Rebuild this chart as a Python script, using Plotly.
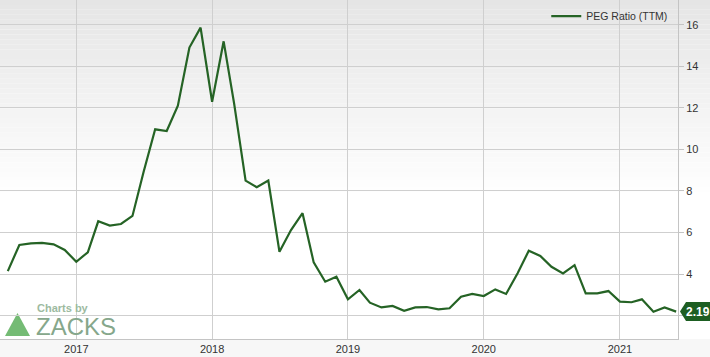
import plotly.graph_objects as go
import pandas as pd

# ---- data ----
dates = pd.date_range("2016-07-01", "2021-06-01", freq="MS")
peg_ttm = [
    4.14, 5.40, 5.48, 5.50, 5.43, 5.16,
    4.59, 5.05, 6.54, 6.33, 6.41, 6.80, 8.93, 10.97, 10.89, 12.11, 14.91, 15.87,
    12.30, 15.21, 12.23, 8.50, 8.18, 8.50, 5.07, 6.12, 6.93, 4.56, 3.63, 3.87,
    2.78, 3.23, 2.62, 2.39, 2.46, 2.23, 2.39, 2.41, 2.30, 2.35, 2.91, 3.04,
    2.94, 3.26, 3.04, 4.04, 5.12, 4.87, 4.35, 4.03, 4.43, 3.07, 3.07, 3.18,
    2.67, 2.64, 2.78, 2.18, 2.39, 2.19,
]
y_ticks = [2, 4, 6, 8, 10, 12, 14, 16]
y_tick_labels = ["", "4", "6", "8", "10", "12", "14", "16"]  # "2" is hidden behind the value badge
x_ticks = ["2017-01-01", "2018-01-01", "2019-01-01", "2020-01-01", "2021-01-01"]
x_tick_labels = ["2017", "2018", "2019", "2020", "2021"]
last_label = "2.19"

W, H = 710, 357
L, R, T, B = 0, 32, 0, 18
LINE = "#256325"

fig = go.Figure()
fig.add_trace(go.Scatter(
    x=dates, y=peg_ttm, mode="lines", name="PEG Ratio (TTM)",
    line=dict(color=LINE, width=2.2),
))

shapes = []
# background gradient (page wide)
n = 40
top_c, bot_c = 229, 255
grad_end = 0.42
xr = W / (W - L - R)
for i in range(n):
    y1 = 1 - (1 - grad_end) * i / n
    y0 = 1 - (1 - grad_end) * (i + 1) / n
    c = int(round(top_c + (bot_c - top_c) * (i + 0.5) / n))
    shapes.append(dict(type="rect", xref="paper", yref="paper", x0=0, x1=xr,
                       y0=y0, y1=y1, fillcolor=f"rgb({c},{c},{c})",
                       line=dict(width=0), layer="below"))
# bottom strip
shapes.append(dict(type="rect", xref="paper", yref="paper", x0=0, x1=xr,
                   y0=-B / (H - T - B), y1=0, fillcolor="#f7f7f7",
                   line=dict(width=0), layer="below"))
# zacks triangle
shapes.append(dict(type="path", xref="paper", yref="paper",
                   xsizemode="pixel", ysizemode="pixel", xanchor=0, yanchor=0,
                   path="M 5 3 L 17.5 26 L 30 3 Z",
                   fillcolor="#74bb74", line=dict(width=0), layer="below"))
# last value label box
shapes.append(dict(type="path", xref="paper", yref="y",
                   xsizemode="pixel", ysizemode="pixel", xanchor=1, yanchor=peg_ttm[-1],
                   path="M 2 0 L 8 -9.5 L 34 -9.5 L 34 9.5 L 8 9.5 Z",
                   fillcolor="#1d5e22", line=dict(width=0), layer="above"))

annotations = [
    dict(text="<b>" + last_label + "</b>", xref="paper", yref="y", x=1, y=peg_ttm[-1],
         xanchor="left", yanchor="middle", xshift=7, showarrow=False, borderpad=0,
         font=dict(family="Liberation Sans, Arial", size=12, color="white")),
    dict(text="<b>Charts by</b>", xref="paper", yref="paper", x=35 / 678, y=(339 - 308) / 339,
         xanchor="left", yanchor="middle", showarrow=False,
         font=dict(family="Liberation Sans, Arial", size=11, color="#9dba9f")),
    dict(text="ZACKS", xref="paper", yref="paper", x=34 / 678, y=(339 - 326.5) / 339,
         xanchor="left", yanchor="middle", showarrow=False,
         font=dict(family="Liberation Sans, Arial", size=24, color="#86a78b")),
]

fig.update_layout(
    width=W, height=H,
    margin=dict(l=L, r=R, t=T, b=B),
    paper_bgcolor="white",
    plot_bgcolor="rgba(0,0,0,0)",
    font=dict(family="Liberation Sans, Arial, Helvetica", size=11, color="#333333"),
    showlegend=True,
    legend=dict(x=0.993, y=0.995, xanchor="right", yanchor="top",
                bgcolor="rgba(0,0,0,0)", itemwidth=30,
                font=dict(size=10.5, color="#333333")),
    shapes=shapes,
    annotations=annotations,
    xaxis=dict(
        range=["2016-06-10", "2021-06-06"],
        tickvals=x_ticks, ticktext=x_tick_labels,
        showgrid=True, gridcolor="#cfcfcf", gridwidth=1,
        showline=True, linecolor="#c4c4c4", linewidth=1, mirror=False,
        ticks="", zeroline=False,
    ),
    yaxis=dict(
        range=[0.87, 17.2], side="right",
        tickvals=y_ticks, ticktext=y_tick_labels,
        showgrid=True, gridcolor="#cfcfcf", gridwidth=1,
        showline=True, linecolor="#c4c4c4", linewidth=1,
        ticks="outside", ticklen=5, tickcolor="#c4c4c4",
        zeroline=False,
    ),
)

fig.write_html("out.html")
